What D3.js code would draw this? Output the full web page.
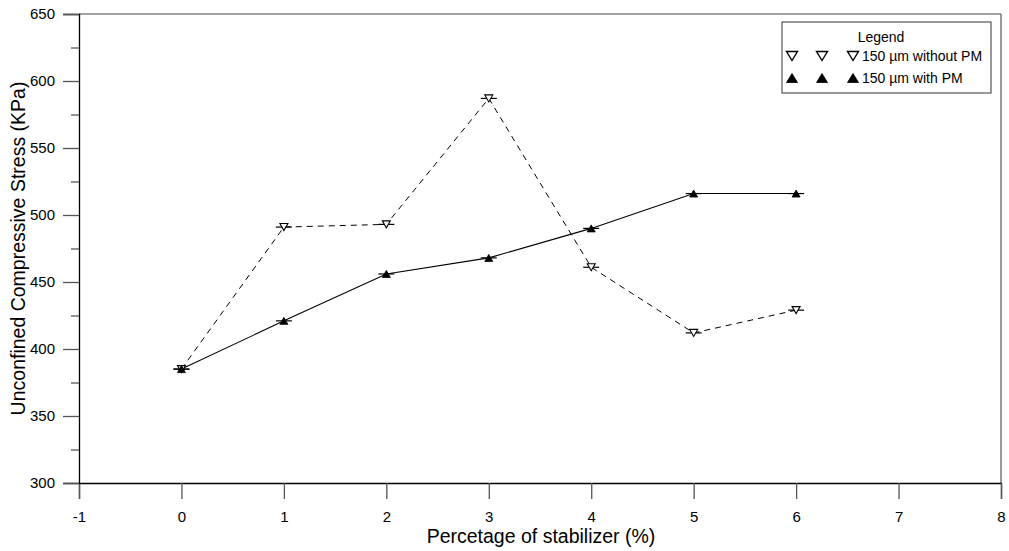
<!DOCTYPE html>
<html>
<head>
<meta charset="utf-8">
<script src="https://cdn.jsdelivr.net/npm/d3@7"></script>
<style>
  html, body { margin: 0; padding: 0; background: #fff; }
  svg { display: block; font-family: "Liberation Sans", Arial, sans-serif; }
</style>
</head>
<body>
<svg id="chart" width="1009" height="551"></svg>
<script>
// Stabilizer content (%) and unconfined compressive stress (kPa)
const stabilizer = [0, 1, 2, 3, 4, 5, 6];
const withoutPM = [385, 491, 493, 587, 461, 412, 429];
const withPM = [385, 421, 456, 468, 490, 516, 516];
const xTicks = [-1, 0, 1, 2, 3, 4, 5, 6, 7, 8];
const yTicks = [300, 350, 400, 450, 500, 550, 600, 650];
const yMinorTicks = [325, 375, 425, 475, 525, 575, 625];
const seriesNames = ["150 µm without PM", "150 µm with PM"];

const svg = d3.select("#chart");
const margin = { left: 79, right: 8, top: 14, bottom: 68 };
const W = 1009, H = 551;
const FONT = "Liberation Sans, Arial, sans-serif";

const x = d3.scaleLinear().domain([-1, 8]).range([margin.left, W - margin.right]);
const y = d3.scaleLinear().domain([300, 650]).range([H - margin.bottom, margin.top]);
const fmt = d => String(d); // plain hyphen for negatives

// frame: top and right edges
svg.append("line")
  .attr("x1", x(-1)).attr("x2", x(8)).attr("y1", y(650)).attr("y2", y(650))
  .attr("stroke", "#444").attr("stroke-width", 1.2);
svg.append("line")
  .attr("x1", x(8)).attr("x2", x(8)).attr("y1", y(650)).attr("y2", y(300))
  .attr("stroke", "#555").attr("stroke-width", 1.2);

// x axis
const xAxis = svg.append("g")
  .attr("transform", `translate(0,${y(300)})`)
  .call(d3.axisBottom(x).tickValues(xTicks).tickSize(16).tickPadding(12).tickFormat(fmt));
xAxis.select(".domain").attr("stroke", "#000").attr("stroke-width", 1.3);
xAxis.selectAll(".tick line").attr("stroke", "#555").attr("stroke-width", 1.3);
xAxis.selectAll(".tick text").attr("font-size", 15).attr("fill", "#000").attr("font-family", FONT);

// y axis
const yAxis = svg.append("g")
  .attr("transform", `translate(${x(-1)},0)`)
  .call(d3.axisLeft(y).tickValues(yTicks).tickSize(16).tickPadding(8).tickFormat(fmt));
yAxis.select(".domain").attr("stroke", "#000").attr("stroke-width", 1.3);
yAxis.selectAll(".tick line").attr("stroke", "#555").attr("stroke-width", 1.3);
yAxis.selectAll(".tick text").attr("font-size", 15).attr("fill", "#000").attr("font-family", FONT);

const yMinor = svg.append("g")
  .attr("transform", `translate(${x(-1)},0)`)
  .call(d3.axisLeft(y).tickValues(yMinorTicks).tickSize(8).tickFormat(""));
yMinor.select(".domain").remove();
yMinor.selectAll(".tick line").attr("stroke", "#555").attr("stroke-width", 1.3);

// axis titles
svg.append("text")
  .attr("x", 541).attr("y", 543)
  .attr("text-anchor", "middle").attr("font-size", 19.5)
  .text("Percetage of stabilizer (%)");
svg.append("text")
  .attr("transform", `translate(25,${(y(300) + y(650)) / 2}) rotate(-90)`)
  .attr("text-anchor", "middle").attr("font-size", 19.5)
  .text("Unconfined Compressive Stress (KPa)");

const line = d3.line().x((d, i) => x(stabilizer[i])).y(d => y(d));

// series without PM: dashed line, open down-triangles
svg.append("path").datum(withoutPM)
  .attr("d", line).attr("fill", "none").attr("stroke", "#000")
  .attr("stroke-width", 1).attr("stroke-dasharray", "6,5");
// series with PM: solid line, filled up-triangles
svg.append("path").datum(withPM)
  .attr("d", line).attr("fill", "none").attr("stroke", "#000")
  .attr("stroke-width", 1.1);

// short horizontal caps at each point
function caps(data) {
  svg.append("g").selectAll("line").data(data).join("line")
    .attr("x1", (d, i) => x(stabilizer[i]) - 8)
    .attr("x2", (d, i) => x(stabilizer[i]) + 8)
    .attr("y1", d => y(d)).attr("y2", d => y(d))
    .attr("stroke", "#000").attr("stroke-width", 1.2);
}
caps(withoutPM);
caps(withPM);

function downTri(cx, cy, w, h) {
  return `M${cx - w / 2},${cy - h / 2}L${cx + w / 2},${cy - h / 2}L${cx},${cy + h / 2}Z`;
}
function upTri(cx, cy, w, h) {
  return `M${cx - w / 2},${cy + h / 2}L${cx + w / 2},${cy + h / 2}L${cx},${cy - h / 2}Z`;
}

svg.append("g").selectAll("path").data(withoutPM).join("path")
  .attr("d", (d, i) => downTri(x(stabilizer[i]), y(d), 8, 7))
  .attr("fill", "#fff").attr("stroke", "#000").attr("stroke-width", 1.1);
svg.append("g").selectAll("path").data(withPM).join("path")
  .attr("d", (d, i) => upTri(x(stabilizer[i]), y(d), 8, 7))
  .attr("fill", "#000").attr("stroke", "#000").attr("stroke-width", 0.8);

// legend
const lg = svg.append("g");
lg.append("rect").attr("x", 782).attr("y", 22).attr("width", 209).attr("height", 71)
  .attr("fill", "#fff").attr("stroke", "#333").attr("stroke-width", 1);
lg.append("text").attr("x", 881).attr("y", 42).attr("text-anchor", "middle")
  .attr("font-size", 14).text("Legend");
const rows = [56, 78];
[792, 822, 853].forEach(cx => {
  lg.append("path").attr("d", downTri(cx, rows[0], 11, 9))
    .attr("fill", "#fff").attr("stroke", "#000").attr("stroke-width", 1.4);
  lg.append("path").attr("d", upTri(cx, rows[1], 11, 9))
    .attr("fill", "#000").attr("stroke", "#000").attr("stroke-width", 0.8);
});
seriesNames.forEach((name, i) => {
  lg.append("text").attr("x", 862).attr("y", rows[i] + 5)
    .attr("font-size", 14).text(name);
});
</script>
</body>
</html>
